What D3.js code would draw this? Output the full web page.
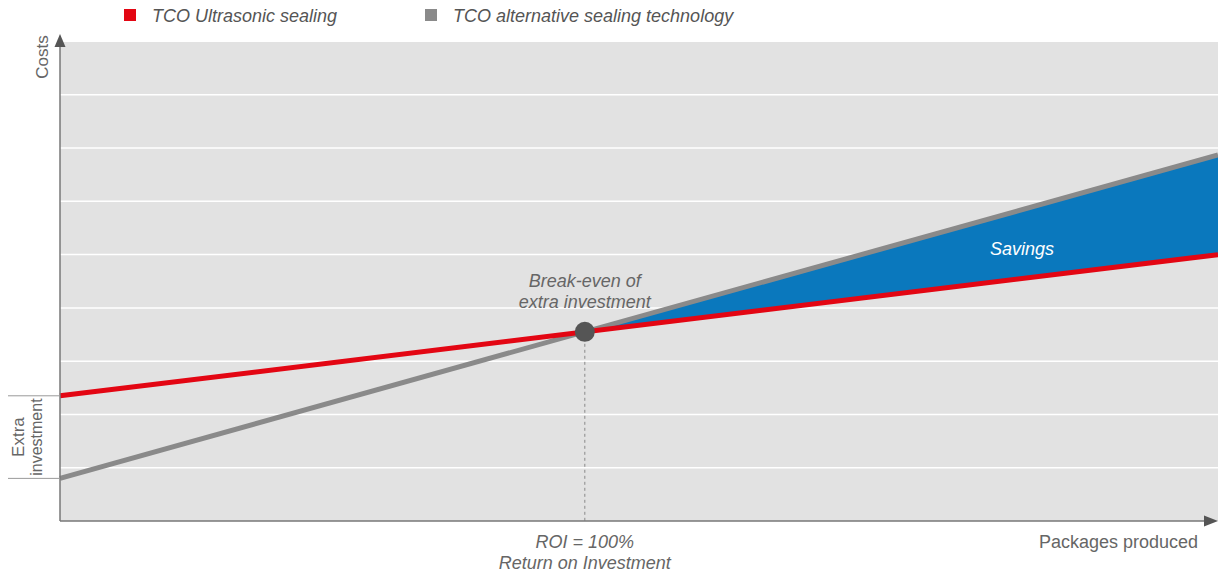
<!DOCTYPE html>
<html>
<head>
<meta charset="utf-8">
<script src="https://cdn.jsdelivr.net/npm/d3@7"></script>
<style>
  body { margin: 0; background: #fff; }
  svg text { font-family: "Liberation Sans", Arial, sans-serif; }
</style>
</head>
<body>
<div id="chart"></div>
<script>
// packages produced (start and end of the chart)
const packages = [0, 100];
// total cost of ownership at those points
const tcoUltrasonic = [2.35, 5.0];
const tcoAlternative = [0.8, 6.87];
const costGrid = [1, 2, 3, 4, 5, 6, 7, 8];
const seriesNames = ["TCO Ultrasonic sealing", "TCO alternative sealing technology"];

function init() {
  var width = 1218, height = 573;
  var plot = { left: 60, right: 1218, top: 42, bottom: 521 };

  var svg = d3
    .select("#chart")
    .append("svg")
    .attr("width", width)
    .attr("height", height);

  var x = d3.scaleLinear().domain([0, 100]).range([plot.left, plot.right]);
  var y = d3.scaleLinear().domain([0, 9]).range([plot.bottom, plot.top - 0.5]);

  // background
  svg
    .append("rect")
    .attr("x", plot.left)
    .attr("y", plot.top)
    .attr("width", plot.right - plot.left)
    .attr("height", plot.bottom - plot.top)
    .attr("fill", "#e2e2e2");

  // grid lines
  svg
    .append("g")
    .selectAll("line")
    .data(costGrid)
    .enter()
    .append("line")
    .attr("x1", plot.left)
    .attr("x2", plot.right)
    .attr("y1", function (d) { return y(d); })
    .attr("y2", function (d) { return y(d); })
    .attr("stroke", "#fff")
    .attr("stroke-width", 1.5);

  // line helpers
  var red = packages.map(function (p, i) { return [p, tcoUltrasonic[i]]; });
  var grey = packages.map(function (p, i) { return [p, tcoAlternative[i]]; });

  // intersection = break-even
  var sR = (tcoUltrasonic[1] - tcoUltrasonic[0]) / (packages[1] - packages[0]);
  var sG = (tcoAlternative[1] - tcoAlternative[0]) / (packages[1] - packages[0]);
  var bx = packages[0] + (tcoUltrasonic[0] - tcoAlternative[0]) / (sG - sR);
  var by = tcoUltrasonic[0] + sR * (bx - packages[0]);

  // savings area
  svg
    .append("path")
    .datum([[bx, by, by], [packages[1], tcoUltrasonic[1], tcoAlternative[1]]])
    .attr("fill", "#0a78bd")
    .attr(
      "d",
      d3.area()
        .x(function (d) { return x(d[0]); })
        .y0(function (d) { return y(d[1]); })
        .y1(function (d) { return y(d[2]); })
    );

  var line = d3.line()
    .x(function (d) { return x(d[0]); })
    .y(function (d) { return y(d[1]); });

  svg.append("path").datum(grey).attr("d", line)
    .attr("fill", "none").attr("stroke", "#8a8a8a").attr("stroke-width", 5);
  svg.append("path").datum(red).attr("d", line)
    .attr("fill", "none").attr("stroke", "#e30613").attr("stroke-width", 5);

  // dashed ROI line
  svg
    .append("line")
    .attr("x1", x(bx)).attr("x2", x(bx))
    .attr("y1", y(by)).attr("y2", plot.bottom)
    .attr("stroke", "#888")
    .attr("stroke-width", 1)
    .attr("stroke-dasharray", "3,3");

  // break-even dot
  svg
    .append("circle")
    .attr("cx", x(bx))
    .attr("cy", y(by))
    .attr("r", 10)
    .attr("fill", "#555");

  // axes
  var axisColor = "#777";
  svg.append("line")
    .attr("x1", plot.left).attr("x2", plot.left)
    .attr("y1", 44).attr("y2", plot.bottom)
    .attr("stroke", axisColor).attr("stroke-width", 1.5);
  svg.append("path")
    .attr("d", "M" + plot.left + ",34 L" + (plot.left - 5.5) + ",47 L" + (plot.left + 5.5) + ",47 Z")
    .attr("fill", "#555");
  svg.append("line")
    .attr("x1", plot.left).attr("x2", 1206)
    .attr("y1", plot.bottom).attr("y2", plot.bottom)
    .attr("stroke", axisColor).attr("stroke-width", 1.5);
  svg.append("path")
    .attr("d", "M1218," + plot.bottom + " L1204," + (plot.bottom - 5.5) + " L1204," + (plot.bottom + 5.5) + " Z")
    .attr("fill", "#555");

  // extra investment bracket
  [tcoUltrasonic[0], tcoAlternative[0]].forEach(function (v) {
    svg.append("line")
      .attr("x1", 8).attr("x2", plot.left)
      .attr("y1", y(v)).attr("y2", y(v))
      .attr("stroke", "#999").attr("stroke-width", 1);
  });
  var midY = (y(tcoUltrasonic[0]) + y(tcoAlternative[0])) / 2;
  svg.append("text")
    .attr("transform", "translate(24," + midY + ") rotate(-90)")
    .attr("text-anchor", "middle")
    .attr("fill", "#666")
    .style("font-size", "17px")
    .text("Extra");
  svg.append("text")
    .attr("transform", "translate(42," + midY + ") rotate(-90)")
    .attr("text-anchor", "middle")
    .attr("fill", "#666")
    .style("font-size", "16px")
    .text("investment");

  // axis labels
  svg.append("text")
    .attr("transform", "translate(48,57) rotate(-90)")
    .attr("text-anchor", "middle")
    .attr("fill", "#666")
    .style("font-size", "17px")
    .text("Costs");
  svg.append("text")
    .attr("x", 1198).attr("y", 548)
    .attr("text-anchor", "end")
    .attr("fill", "#666")
    .style("font-size", "18px")
    .text("Packages produced");

  // annotations
  function italic(tx, ty, str, color, anchor) {
    svg.append("text")
      .attr("x", tx).attr("y", ty)
      .attr("text-anchor", anchor || "middle")
      .attr("fill", color)
      .style("font-size", "18px")
      .style("font-style", "italic")
      .text(str);
  }
  italic(x(bx), 287, "Break-even of", "#666");
  italic(x(bx), 308, "extra investment", "#666");
  italic(x(bx), 548, "ROI = 100%", "#666");
  italic(x(bx), 569, "Return on Investment", "#666");
  italic(1022, 255, "Savings", "#fff");

  // legend
  var legendColor = d3.scaleOrdinal().domain(seriesNames).range(["#e30613", "#8a8a8a"]);
  var legendX = [124, 425];
  var lg = svg.selectAll("g.legend")
    .data(seriesNames)
    .enter()
    .append("g")
    .attr("class", "legend")
    .attr("transform", function (d, i) { return "translate(" + legendX[i] + ",0)"; });
  lg.append("rect")
    .attr("x", 0).attr("y", 9)
    .attr("width", 12).attr("height", 12)
    .attr("fill", function (d) { return legendColor(d); });
  lg.append("text")
    .attr("x", 28).attr("y", 22)
    .attr("fill", "#555")
    .style("font-size", "18px")
    .style("font-style", "italic")
    .text(function (d) { return d; });
}

window.onload = init;
</script>
</body>
</html>
